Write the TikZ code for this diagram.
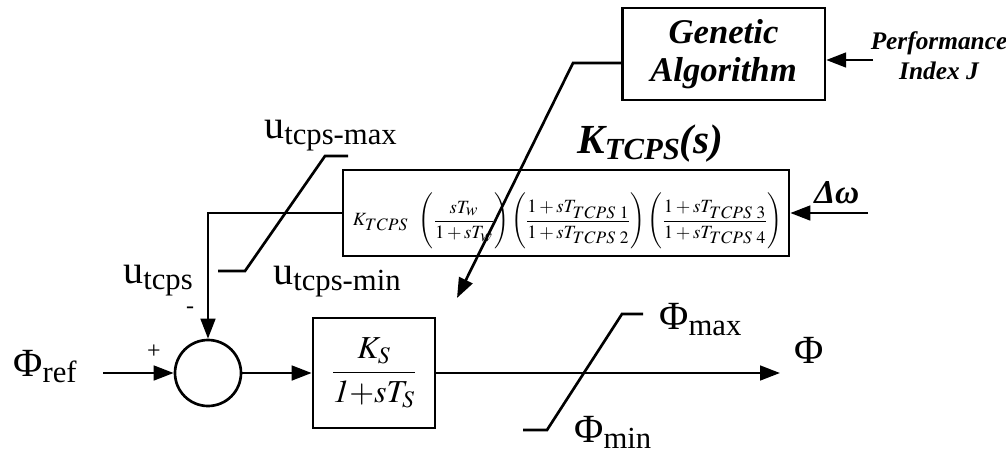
\documentclass[tikz,border=0pt]{standalone}
\usepackage{amsmath}
\usepackage{graphicx}
\usepackage{mathptmx}
\usepackage{fontspec}
\setmainfont{Liberation Serif}
\usetikzlibrary{arrows.meta,positioning}
\DeclareMathSizes{15}{15}{14}{11}
\newcommand{\lsub}[1]{\raisebox{-5pt}{\fontsize{23}{23}\selectfont #1}}
\newcommand{\tall}{\rule[-18pt]{0pt}{42pt}}

\begin{document}
\begin{tikzpicture}[
x=0.75pt,y=-0.75pt,
line width=2pt,
block/.style={draw,line width=2pt,inner sep=0pt},
lab/.style={inner sep=0pt,anchor=base west,font=\fontsize{30}{30}\selectfont},
bold/.style={inner sep=0pt,align=center},
sign/.style={inner sep=0pt,font=\fontsize{18}{18}\selectfont},
arrow/.style={-{Triangle[length=15pt,width=11pt]}}
]
\useasboundingbox (0,0) rectangle (1006,457);

\node[block,align=center,minimum width=152pt,minimum height=69pt,
  font=\bfseries\itshape\fontsize{26}{29}\selectfont] (ga) at (723.5,54) {Genetic\\Algorithm};
\node[bold,font=\bfseries\itshape\fontsize{19}{22.5}\selectfont] (pij) at (939,56) {Performance\\Index J};
\coordinate (pj) at (873,60);

\node[block,minimum width=334.5pt,minimum height=64.5pt] (tf) at (566,213) {};
\node[inner sep=0pt,font=\fontsize{15}{18}\selectfont] (tfeq) at (567.5,221)
  {\resizebox{322pt}{!}{$\displaystyle K_{TCPS}\hspace{7pt}\left(\tall\frac{sT_w}{1+sT_w}\right)\left(\tall\frac{1+sT_{TCPS\ 1}}{1+sT_{TCPS\ 2}}\right)\left(\tall\frac{1+sT_{TCPS\ 3}}{1+sT_{TCPS\ 4}}\right)$}};
\node[inner sep=0pt,anchor=base west,font=\bfseries\itshape\fontsize{31}{31}\selectfont] (ktcps) at (576,153) {K\lsub{TCPS}(s)};
\node[inner sep=0pt,anchor=base west,font=\bfseries\itshape\fontsize{25}{25}\selectfont] (dw) at (813,203) {Δω};
\coordinate (dwin) at (868,213);

\coordinate (gabend) at (573,63);
\coordinate (gatip) at (457,298);

\node[draw,circle,minimum size=49.5pt,inner sep=0pt] (sum) at (208,373) {};
\node[block,minimum width=91.5pt,minimum height=82.5pt,font=\fontsize{24}{24}\selectfont] (ks) at (374,373)
  {$\dfrac{K_S}{\mathit{1}{+}sT_S}$};
\coordinate (phiin) at (103,373);
\coordinate (phiout) at (780,373);

\node[lab] (phiref) at (12,376) {Φ\lsub{ref}};
\node[lab] (phimax) at (658,329) {Φ\lsub{max}};
\node[lab] (phimin) at (573,442) {Φ\lsub{min}};
\node[lab] (phi) at (793,363) {Φ};
\node[lab] (umax) at (263,138) {u\lsub{tcps-max}};
\node[lab] (ucps) at (122,283) {u\lsub{tcps}};
\node[lab] (umin) at (272,284) {u\lsub{tcps-min}};
\node[sign] (plus) at (154,352) {+};
\node[sign] (minus) at (190,310) {-};

\draw[arrow] (pj) -- (pj -| ga.east);
\draw[arrow] (dwin) -- (tf.east);
\draw[arrow] (gabend -| ga.west) -- (gabend) -- (gatip);
\draw[arrow] (tf.west) -| (sum.north);
\draw[arrow] (phiin) -- (sum.west);
\draw[arrow] (sum.east) -- (ks.west);
\draw[arrow] (ks.east) -- (phiout);

\draw (218,271) -- (245,271) -- (325,156) -- (348,156);
\draw (523,430) -- (547,430) -- (622,314) -- (643,314);
\end{tikzpicture}
\end{document}
